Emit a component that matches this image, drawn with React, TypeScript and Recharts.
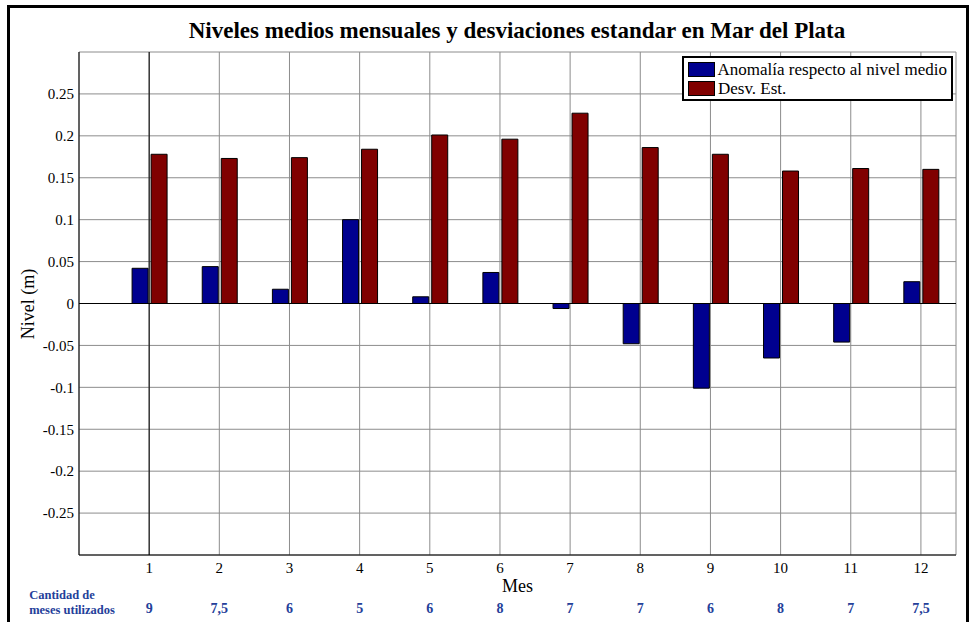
import { BarChart, Bar, XAxis, YAxis, CartesianGrid, ReferenceLine } from 'recharts';

// Meses (eje x)
const meses = [1, 2, 3, 4, 5, 6, 7, 8, 9, 10, 11, 12];
// Anomalía respecto al nivel medio (m)
const anomalia = [0.042, 0.044, 0.017, 0.100, 0.008, 0.037, -0.006, -0.048, -0.101, -0.065, -0.046, 0.026];
// Desviación estándar (m)
const desvEst = [0.178, 0.173, 0.174, 0.184, 0.201, 0.196, 0.227, 0.186, 0.178, 0.158, 0.161, 0.160];
// Cantidad de meses utilizados
const mesesUsados = ['9', '7,5', '6', '5', '6', '8', '7', '7', '6', '8', '7', '7,5'];
// Ticks del eje y
const yTicks = [-0.3, -0.25, -0.2, -0.15, -0.1, -0.05, 0, 0.05, 0.1, 0.15, 0.2, 0.25, 0.3];

const data = meses.map((mes, i) => ({ mes, anomalia: anomalia[i], desv: desvEst[i] }));

const AZUL = '#00008f';
const ROJO = '#800000';
const TEXTO_AZUL = '#24409a';
const FUENTE = '"Liberation Serif", "DejaVu Serif", serif';

const formatY = (v: number) => (Math.abs(v) > 0.29 ? '' : String(v));

function MesTick(props: any) {
    const { x, y, payload, index } = props;
    return (
        <g>
            <text x={x} y={y + 18} textAnchor="middle" fontSize={15} fontFamily={FUENTE} fill="#000">
                {payload.value}
            </text>
            <text x={x} y={y + 58} textAnchor="middle" fontSize={14} fontWeight="bold" fontFamily={FUENTE} fill={TEXTO_AZUL}>
                {mesesUsados[payload.value - 1]}
            </text>
            {index === 0 && (
                <text x={x - 120} y={y + 44} fontSize={12.5} fontWeight="bold" fontFamily={FUENTE} fill={TEXTO_AZUL}>
                    <tspan x={x - 120}>Cantidad de</tspan>
                    <tspan x={x - 120} dy={15}>meses utilizados</tspan>
                </text>
            )}
        </g>
    );
}

function MesLabel(props: any) {
    const { viewBox } = props;
    return (
        <text x={viewBox.x + viewBox.width / 2} y={592} textAnchor="middle" fontSize={18} fontFamily={FUENTE} fill="#000">
            Mes
        </text>
    );
}

function NivelLabel() {
    return (
        <text x={28} y={304} transform="rotate(-90 28 304)" textAnchor="middle" dominantBaseline="central" fontSize={18} fontFamily={FUENTE} fill="#000">
            Nivel (m)
        </text>
    );
}

function Leyenda() {
    const fila = (color: string, texto: string) => (
        <div style={{ display: 'flex', alignItems: 'center', height: 19 }}>
            <div style={{ width: 25, height: 13, background: color, border: '1px solid #000', marginRight: 3 }} />
            <span style={{ fontSize: 17, fontFamily: FUENTE, color: '#000', whiteSpace: 'nowrap' }}>{texto}</span>
        </div>
    );
    return (
        <div style={{ position: 'absolute', left: 682, top: 56, border: '2px solid #000', background: '#fff', padding: '2px 4px', boxSizing: 'border-box', width: 271, height: 45 }}>
            {fila(AZUL, 'Anomalía respecto al nivel medio')}
            {fila(ROJO, 'Desv. Est.')}
        </div>
    );
}

export default function App() {
    return (
        <div style={{ position: 'relative', width: 971, height: 622, overflow: 'hidden', background: '#fff' }}>
            <style>{'body { margin: 0; }'}</style>
            <div style={{ position: 'absolute', left: 7, top: 5, width: 962, height: 700, border: '3px solid #000', boxSizing: 'border-box' }} />
            <BarChart width={971} height={622} data={data} margin={{ top: 52, right: 15, left: 0, bottom: 0 }} barGap={3} style={{ position: 'absolute', left: 0, top: 0 }}>
                <CartesianGrid stroke="#8c8c8c" strokeWidth={1} />
                <XAxis
                    dataKey="mes"
                    type="number"
                    domain={[0, 12.5]}
                    ticks={meses}
                    height={67}
                    tickSize={0}
                    tickMargin={0}
                    tickLine={false}
                    axisLine={{ stroke: '#000' }}
                    tick={<MesTick />}
                    interval={0}
                    label={<MesLabel />}
                />
                <XAxis xAxisId="top" orientation="top" type="number" domain={[0, 12.5]} height={0} tick={false} tickLine={false} axisLine={{ stroke: '#000' }} />
                <YAxis
                    type="number"
                    domain={[-0.3, 0.3]}
                    ticks={yTicks}
                    width={79}
                    tickSize={0}
                    tickMargin={5}
                    tickLine={false}
                    axisLine={{ stroke: '#000' }}
                    tickFormatter={formatY}
                    tick={{ fontSize: 15, fontFamily: FUENTE, fill: '#000' }}
                    interval={0}
                    label={<NivelLabel />}
                />
                <YAxis yAxisId="right" orientation="right" type="number" domain={[-0.3, 0.3]} width={0} tick={false} tickLine={false} axisLine={{ stroke: '#000' }} />
                <ReferenceLine x={1} stroke="#000" strokeWidth={1} />
                <Bar dataKey="anomalia" name="Anomalía respecto al nivel medio" fill={AZUL} stroke="#000" strokeWidth={1} barSize={16} isAnimationActive={false} />
                <Bar dataKey="desv" name="Desv. Est." fill={ROJO} stroke="#000" strokeWidth={1} barSize={16} isAnimationActive={false} />
                <ReferenceLine y={0} stroke="#000" strokeWidth={1} />
            </BarChart>
            <svg width={971} height={50} style={{ position: 'absolute', left: 0, top: 0 }}>
                <text x={517} y={38} textAnchor="middle" fontSize={23} fontWeight="bold" fontFamily={FUENTE} fill="#000">
                    Niveles medios mensuales y desviaciones estandar en Mar del Plata
                </text>
            </svg>
            <Leyenda />
        </div>
    );
}
